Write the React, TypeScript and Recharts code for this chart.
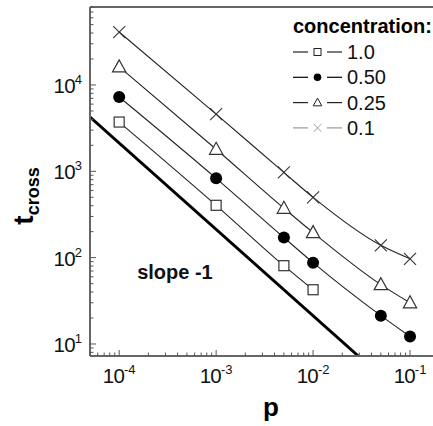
import React from 'react';
import { LineChart, Line, XAxis, YAxis, ReferenceLine, ReferenceDot, Legend } from 'recharts';

const FONT = '"Liberation Sans", Arial, Helvetica, sans-serif';

// ---- data ----
const pFull = [1e-4, 1e-3, 5e-3, 1e-2, 5e-2, 1e-1];
const pShort = [1e-4, 1e-3, 5e-3, 1e-2];
const tConc10 = [3720, 404, 80.7, 42.5];
const tConc050 = [7260, 830, 171, 87.5, 21.3, 12.2];
const tConc025 = [16200, 1800, 373, 195, 48.7, 30];
const tConc01 = [41000, 4600, 970, 500, 139, 97];
const slopeP = [5e-5, 0.0293];
const slopeT = [4250, 7.26];

const legendTitle = 'concentration:';
const seriesNames = ['1.0', '0.50', '0.25', '0.1'];
const slopeText = 'slope -1';

const X_DOMAIN = [5e-5, 0.1726];
const Y_DOMAIN = [7.26, 80000];
const tickMultipliers = [1, 2, 3, 4, 5, 6, 7, 8, 9];

function logTicks(domain: number[]) {
  const out: number[] = [];
  for (let e = -6; e <= 6; e++) {
    for (const m of tickMultipliers) {
      const v = m * Math.pow(10, e);
      if (v >= domain[0] * 0.9999 && v <= domain[1] * 1.0001) out.push(v);
    }
  }
  return out;
}
const xTicks = logTicks(X_DOMAIN);
const yTicks = logTicks(Y_DOMAIN);

const toData = (ps: number[], ts: number[]) => ps.map((p, i) => ({ p, t: ts[i] }));

const LINE_COLOR = '#222';

const Square = (props: any) => {
  const { cx, cy, s = 5, sw = 1.2, color = '#333' } = props;
  if (cx == null || cy == null) return null;
  return <rect x={cx - s} y={cy - s} width={2 * s} height={2 * s} fill="#fff" stroke={color} strokeWidth={sw} />;
};
const Dot = (props: any) => {
  const { cx, cy, s = 6, color = '#000' } = props;
  if (cx == null || cy == null) return null;
  return <circle cx={cx} cy={cy} r={s} fill={color} />;
};
const Tri = (props: any) => {
  const { cx, cy, s = 7, sw = 1.2, color = '#333' } = props;
  if (cx == null || cy == null) return null;
  const pts = `${cx},${cy - s} ${cx - s * 0.95},${cy + s * 0.72} ${cx + s * 0.95},${cy + s * 0.72}`;
  return <polygon points={pts} fill="#fff" stroke={color} strokeWidth={sw} />;
};
const Cross = (props: any) => {
  const { cx, cy, s = 6, sw = 1.1, color = '#333' } = props;
  if (cx == null || cy == null) return null;
  return (
    <g stroke={color} strokeWidth={sw}>
      <line x1={cx - s} y1={cy - s} x2={cx + s} y2={cy + s} />
      <line x1={cx - s} y1={cy + s} x2={cx + s} y2={cy - s} />
    </g>
  );
};

const series = [
  { name: seriesNames[0], data: toData(pShort, tConc10), Marker: Square, legendColor: '#222', legendSize: 3.5 },
  { name: seriesNames[1], data: toData(pFull, tConc050), Marker: Dot, legendColor: '#000', legendSize: 3.8 },
  { name: seriesNames[2], data: toData(pFull, tConc025), Marker: Tri, legendColor: '#222', legendSize: 4.5 },
  { name: seriesNames[3], data: toData(pFull, tConc01), Marker: Cross, legendColor: '#999', legendSize: 3.8 },
];

const isMajor = (v: number) => {
  const lg = Math.log10(v);
  return Math.abs(lg - Math.round(lg)) < 1e-6;
};

const XTick = (props: any) => {
  const { x, y, payload } = props;
  const v = payload.value;
  const major = isMajor(v);
  const e = Math.round(Math.log10(v));
  return (
    <g>
      <line x1={x} x2={x} y1={y} y2={y - (major ? 6 : 3.5)} stroke="#555" strokeWidth={1} />
      {major && (
        <text x={x} y={y + 27} textAnchor="middle" fontFamily={FONT} fontSize={20.5} fill="#111" letterSpacing={-0.8}>
          10<tspan dy={-9} fontSize={13} letterSpacing={0}>{e}</tspan>
        </text>
      )}
    </g>
  );
};

const YTick = (props: any) => {
  const { x, y, payload } = props;
  const v = payload.value;
  const major = isMajor(v);
  const e = Math.round(Math.log10(v));
  return (
    <g>
      <line x1={x} x2={x + (major ? 6 : 3.5)} y1={y} y2={y} stroke="#555" strokeWidth={1} />
      {major && (
        <text x={x - 8} y={y + 8} textAnchor="end" fontFamily={FONT} fontSize={20.5} fill="#111" letterSpacing={-0.8}>
          10<tspan dy={-9} fontSize={13} letterSpacing={0}>{e}</tspan>
        </text>
      )}
    </g>
  );
};

const LegendBox = () => (
  <svg width={143} height={145} style={{ display: 'block', overflow: 'visible' }}>
    <text x={3} y={33} fontFamily={FONT} fontWeight="bold" fontSize={20} fill="#000">{legendTitle}</text>
    {series.map((s, i) => {
      const yc = 52 + i * 25.3;
      const M = s.Marker;
      return (
        <g key={s.name}>
          <line x1={3} x2={18} y1={yc} y2={yc} stroke={s.legendColor} strokeWidth={1.2} />
          <line x1={37} x2={52} y1={yc} y2={yc} stroke={s.legendColor} strokeWidth={1.2} />
          <M cx={27.5} cy={yc} s={s.legendSize} sw={1} color={s.legendColor} />
          <text x={57} y={yc + 7} fontFamily={FONT} fontSize={20} fill="#111">{s.name}</text>
        </g>
      );
    })}
  </svg>
);

const YLabel = () => (
  <text transform="translate(33,196) rotate(-90)" textAnchor="middle" fontFamily={FONT} fontWeight="bold" fill="#000">
    <tspan fontSize={28}>t</tspan>
    <tspan fontSize={18} dy={6}>cross</tspan>
  </text>
);

const XLabel = () => (
  <text x={271} y={416} textAnchor="middle" fontFamily={FONT} fontWeight="bold" fontSize={26} fill="#000">p</text>
);

const SlopeLabel = (props: any) => {
  const vb = props.viewBox || {};
  const cx = (vb.x ?? 0) + (vb.width ?? 0) / 2;
  const cy = (vb.y ?? 0) + (vb.height ?? 0) / 2;
  return (
    <text x={cx + 3} y={cy + 7} textAnchor="middle" fontFamily={FONT} fontWeight="bold" fontSize={20} fill="#111">{slopeText}</text>
  );
};

export default function App() {
  return (
    <div style={{ position: 'absolute', left: 0, top: 0, width: 433, height: 426, background: '#fff' }}>
      <LineChart width={433} height={426} margin={{ top: 7, right: 0, bottom: 0, left: 0 }}>
        <XAxis
          dataKey="p"
          type="number"
          scale="log"
          domain={X_DOMAIN}
          allowDataOverflow
          ticks={xTicks}
          interval={0}
          height={70}
          tickSize={0}
          tickMargin={0}
          tickLine={false}
          tick={<XTick />}
          axisLine={{ stroke: '#666', strokeWidth: 2 }}
          label={() => <XLabel />}
        />
        <YAxis
          dataKey="t"
          type="number"
          scale="log"
          domain={Y_DOMAIN}
          allowDataOverflow
          ticks={yTicks}
          interval={0}
          width={90}
          tickSize={0}
          tickMargin={0}
          tickLine={false}
          tick={<YTick />}
          axisLine={{ stroke: '#666', strokeWidth: 2 }}
          label={() => <YLabel />}
        />
        <ReferenceLine y={Y_DOMAIN[1]} stroke="#666" strokeWidth={2} />
        <Line
          data={toData(slopeP, slopeT)}
          dataKey="t"
          type="linear"
          stroke="#000"
          strokeWidth={3}
          dot={false}
          activeDot={false}
          isAnimationActive={false}
          legendType="none"
        />
        {series.map((s) => {
          const M = s.Marker;
          return (
            <Line
              key={s.name}
              name={s.name}
              data={s.data}
              dataKey="t"
              type="monotone"
              stroke={LINE_COLOR}
              strokeWidth={1.1}
              dot={(dp: any) => <M key={`${s.name}-${dp.index}`} cx={dp.cx} cy={dp.cy} />}
              activeDot={false}
              isAnimationActive={false}
            />
          );
        })}
        <ReferenceDot x={3.5e-4} y={69} r={0} fill="none" stroke="none" label={(p: any) => <SlopeLabel {...p} />} />
        <Legend
          layout="vertical"
          align="center"
          verticalAlign="middle"
          wrapperStyle={{ left: 290, top: 0, width: 143, height: 145 }}
          content={() => <LegendBox />}
        />
      </LineChart>
    </div>
  );
}
